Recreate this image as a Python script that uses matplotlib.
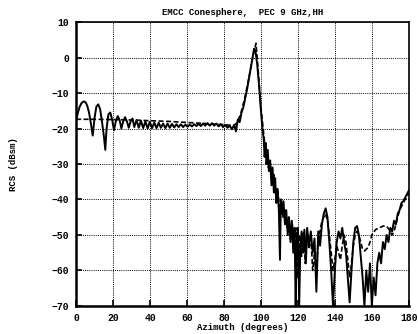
import matplotlib.pyplot as plt

# solid curve (measured)
solid_x = [0, 1, 2, 3, 4, 5, 6, 7, 8, 9, 10, 11, 12, 13, 14, 15, 15.8, 16.5,
           17.5, 18.5, 19.5, 20.5, 21.5, 22.5, 23.5, 24.5, 25.5, 26.5, 27.5,
           28.5, 29.5, 30.5, 31.5, 32.7, 33.9, 35.1, 36.3, 37.5, 38.7, 39.9,
           41.1, 42.3, 43.5, 44.7, 45.9, 47.1, 48.3, 49.5, 50.7, 51.9, 53.1,
           54.3, 55.5, 56.7, 57.9, 59.1, 60.3, 61.5, 62.7, 63.9, 65.1, 66.3,
           67.5, 68.7, 69.9, 71.1, 72.3, 73.5, 74.7, 75.9, 77.1, 78.3, 79.5,
           80.7, 81.9, 83.1, 84.3, 85.5, 86.5, 87.5, 88.5, 89.5, 90.5, 91.5,
           92.5, 93.5, 94.5, 95.5, 96.3, 97, 98, 99, 100, 100.8, 101.5, 102,
           102.5, 103, 103.7, 104.3, 105, 105.7, 106.3, 107, 107.7, 108.3, 109,
           109.7, 110.3, 110.8, 111.5, 112.2, 113, 113.7, 114.5, 115.2, 116,
           116.7, 117.5, 118.2, 118.8, 119.3, 120, 120.7, 121.3, 122, 122.8,
           123.5, 124.3, 125, 126, 127, 128, 129, 130, 131, 132, 133, 134, 135,
           136, 137, 138, 139, 140, 141, 142, 143, 144, 145, 146, 147, 148, 149,
           150, 151, 152, 153, 154, 155, 156, 157, 158, 159, 160, 161, 162, 163,
           164, 165, 166, 167, 168, 169, 170, 171, 172, 173, 174, 175, 176, 177,
           178, 179, 180]
solid_y = [-18, -15.5, -13.8, -12.8, -12.4, -12.5, -13.5, -15.5, -18.5, -22,
           -17, -13.8, -13.2, -14.5, -18, -22, -26, -20,
           -16, -15.5, -17.5, -20.5, -18, -16.5, -17.5, -20, -18, -16.8, -18,
           -19.8, -18, -17.2, -19.6, -17.6, -19.8, -17.8, -19.9, -18.0, -20.0,
           -18.1, -19.9, -18.3, -19.9, -18.4, -19.8, -18.6, -19.9, -18.6,
           -19.8, -18.7, -19.7, -18.8, -19.6, -18.8, -19.6, -18.9, -19.5,
           -18.9, -19.4, -18.8, -19.3, -18.7, -19.3, -18.6, -19.2, -18.5,
           -19.2, -18.5, -19.2, -18.6, -19.4, -18.8, -19.6, -19.0, -19.8,
           -19.2, -20.2, -19.0, -20.8, -17.5, -18.2, -15.5, -14, -11.5, -9,
           -6, -3, 0, 2.5, 2, -2, -8, -15, -20, -23, -28, -24, -30, -26, -32,
           -29, -36, -31, -38, -34, -41, -37, -43, -57, -40, -44, -40.5, -47,
           -43, -50, -45, -52, -46, -55, -48, -70, -52, -48, -70, -54, -49,
           -55, -48.5, -58, -48, -53, -49, -55, -51, -66, -49, -53, -47, -44,
           -42.5, -45, -52, -60, -70, -60, -52, -49, -51, -48, -52, -55, -62,
           -69, -60, -52, -48, -47.5, -50, -56, -62, -70, -60, -66, -58, -70,
           -62, -67, -58, -55, -58, -52, -54, -50, -52, -48, -49, -46, -47,
           -44, -43, -41, -40.5, -39.5, -38.5, -37.5]

# dashed curve (computed)
dashed_x = [0, 10, 20, 30, 40, 50, 60, 70, 80, 85, 87, 89, 91, 93, 95, 96.2,
            97.3, 98, 99, 100, 101, 102, 103, 104, 105, 106, 107, 108, 109,
            110, 111, 112, 113, 114, 115, 116, 117, 118, 119, 120, 121, 122,
            123, 124, 125, 126, 127, 128, 129, 130, 131, 132, 133, 134, 135,
            136, 137, 138, 139, 140, 141, 142, 143, 144, 145, 146, 147, 148,
            149, 150, 151, 152, 153, 154, 155, 156, 157, 158, 159, 160, 162,
            164, 166, 168, 170, 171, 172, 173, 174, 175, 176, 177, 178, 179,
            180]
dashed_y = [-17.4, -17.4, -17.5, -17.6, -17.8, -18.0, -18.3, -18.6, -18.9,
            -19.2, -18.5, -16, -12, -7, -1.5, 1.5, 4, 0, -7, -14, -19, -24,
            -27, -31, -30, -35, -33, -39, -37, -42, -40, -45, -43, -48, -45,
            -51, -47, -53, -48, -62, -50, -56, -49, -58, -50, -54, -50, -60,
            -55, -62, -50, -49, -46, -45, -44, -46, -50, -55, -60, -57, -53,
            -55, -57, -53, -50, -52, -57, -62, -58, -53, -50, -49, -50, -52,
            -54, -54.5, -54, -53.5, -52, -50, -48.5, -48, -47.5, -47.5, -49,
            -50, -49, -47, -45, -43, -42, -41, -40, -39, -38.5]

x_ticks = list(range(0, 181, 20))
y_ticks = list(range(-70, 11, 10))

plt.rcParams["font.family"] = ["Liberation Mono", "DejaVu Sans Mono"]
plt.rcParams["font.weight"] = "bold"

fig = plt.figure(figsize=(4.18, 3.34), dpi=100)
ax = fig.add_axes([0.182, 0.084, 0.796, 0.850])

ax.plot(solid_x, solid_y, color="black", linewidth=1.4)
ax.plot(dashed_x, dashed_y, color="black", linewidth=1.2, linestyle=(0, (3, 1.5)))

ax.set_xlim(0, 180)
ax.set_ylim(-70, 10)
ax.set_xticks(x_ticks)
ax.set_yticks(y_ticks)
ax.tick_params(direction="in", length=4, width=1.2, labelsize=7, pad=5)
ax.grid(True, color="black", linestyle=(0, (1, 1.2)), linewidth=0.7)
for side in ["left", "bottom"]:
    ax.spines[side].set_linewidth(1.8)
for side in ["top", "right"]:
    ax.spines[side].set_linewidth(1.2)

ax.set_title("EMCC Conesphere,  PEC 9 GHz,HH", fontsize=6.5, fontweight="bold", pad=5)
ax.set_xlabel("Azimuth (degrees)", fontsize=6.5, fontweight="bold", labelpad=0)
ax.set_ylabel("RCS (dBsm)", fontsize=6.5, fontweight="bold", labelpad=24)

fig.savefig("out.png", dpi=100)
